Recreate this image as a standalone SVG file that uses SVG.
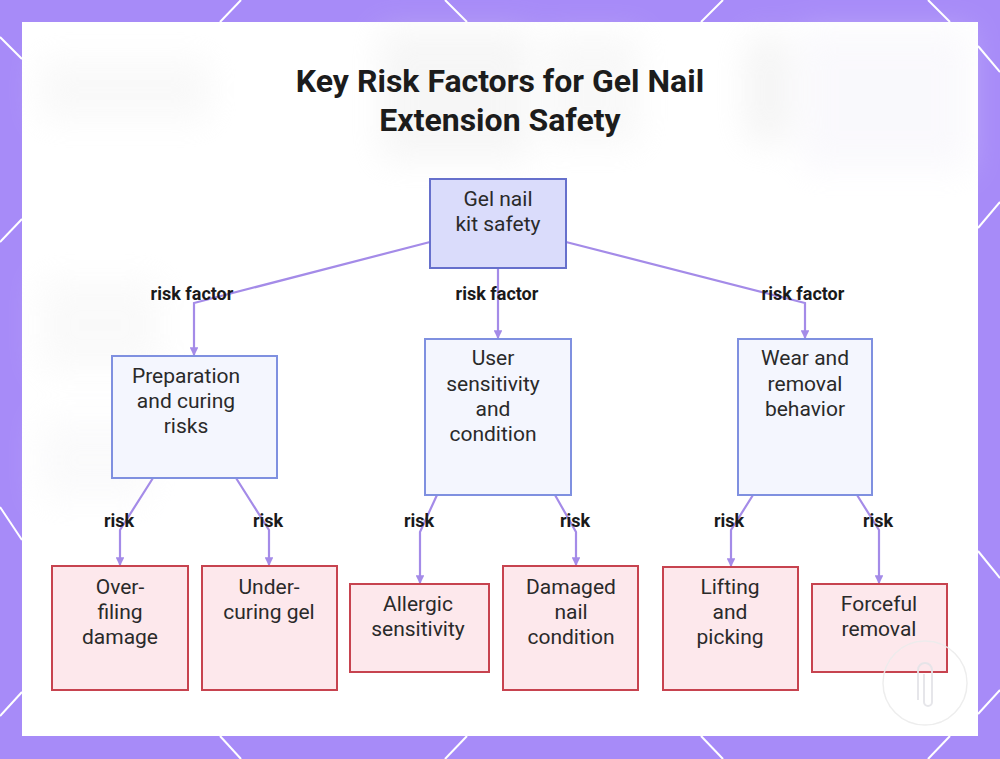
<svg xmlns="http://www.w3.org/2000/svg" width="1000" height="759" viewBox="0 0 1000 759">
<style>
.title{font-family:Roboto,"Liberation Sans",sans-serif;font-weight:bold;font-size:32px;fill:#1c1c1c;text-anchor:middle}
.nt{font-family:Roboto,"Liberation Sans",sans-serif;font-size:21px;fill:#2a2a2a;text-anchor:middle}
.lbl{font-family:Roboto,"Liberation Sans",sans-serif;font-weight:bold;font-size:18px;fill:#1a1a1a;text-anchor:middle}
.root{fill:#dadcfb;stroke:#6670cc;stroke-width:2}
.mid{fill:#f4f6fe;stroke:#7f90e0;stroke-width:2}
.leaf{fill:#fde8ec;stroke:#c7434f;stroke-width:2}
.edge{fill:none;stroke:#a48be8;stroke-width:2.2}
.deco{stroke:#ffffff;stroke-width:2;fill:none}
</style>
<defs>
<marker id="ah" viewBox="0 0 8 8" refX="7" refY="4" markerWidth="4" markerHeight="4" orient="auto">
<path d="M0,0 L8,4 L0,8 z" fill="#a48be8"/>
</marker>
<filter id="blur" x="-100%" y="-100%" width="300%" height="300%"><feGaussianBlur stdDeviation="16"/></filter>
</defs>
<rect x="0" y="0" width="1000" height="759" fill="#a78bf8"/>
<g class="deco">
<line x1="241" y1="0" x2="220" y2="22"/>
<line x1="445" y1="0" x2="467" y2="22"/>
<line x1="723" y1="0" x2="701" y2="22"/>
<line x1="928" y1="0" x2="950" y2="22"/>
<line x1="220" y1="736" x2="241" y2="759"/>
<line x1="467" y1="736" x2="445" y2="759"/>
<line x1="701" y1="736" x2="723" y2="759"/>
<line x1="950" y1="736" x2="928" y2="759"/>
<line x1="0" y1="37" x2="22" y2="59"/>
<line x1="22" y1="219" x2="0" y2="242"/>
<line x1="0" y1="507" x2="22" y2="540"/>
<line x1="22" y1="692" x2="0" y2="716"/>
<line x1="978" y1="46" x2="1000" y2="72"/>
<line x1="1000" y1="202" x2="978" y2="228"/>
<line x1="978" y1="551" x2="1000" y2="578"/>
<line x1="1000" y1="690" x2="978" y2="714"/>
</g>
<rect x="22" y="22" width="956" height="714" fill="#ffffff"/>
<g filter="url(#blur)" opacity="0.35">
<rect x="380" y="30" width="150" height="130" fill="#e6e6e6"/>
<rect x="545" y="35" width="95" height="110" fill="#ececec"/>
<rect x="745" y="35" width="45" height="110" rx="20" fill="#e2e2e2"/>
<rect x="800" y="30" width="170" height="140" fill="#f0eef8"/>
<rect x="40" y="60" width="170" height="60" fill="#eeeeee"/>
<rect x="40" y="280" width="120" height="90" fill="#f0f0f0"/>
<rect x="40" y="420" width="110" height="80" fill="#f2f2f4"/>
</g>
<g id="title">
<text class="title" x="500" y="92">Key Risk Factors for Gel Nail</text>
<text class="title" x="500" y="131">Extension Safety</text>
</g>
<g id="connectors">
<path class="edge" d="M430,242 L194,303 L194,355" marker-end="url(#ah)"/>
<path class="edge" d="M498,268 L498,338" marker-end="url(#ah)"/>
<path class="edge" d="M566,242 L805,303 L805,338" marker-end="url(#ah)"/>
<path class="edge" d="M153,478 L120,530 L120,565" marker-end="url(#ah)"/>
<path class="edge" d="M236,478 L269,530 L269,565" marker-end="url(#ah)"/>
<path class="edge" d="M437,495 L420,532 L420,583" marker-end="url(#ah)"/>
<path class="edge" d="M555,495 L576,532 L576,565" marker-end="url(#ah)"/>
<path class="edge" d="M753,495 L731,530 L731,566" marker-end="url(#ah)"/>
<path class="edge" d="M857,495 L879,530 L879,583" marker-end="url(#ah)"/>
<text class="lbl" x="192" y="300">risk factor</text>
<text class="lbl" x="497" y="300">risk factor</text>
<text class="lbl" x="803" y="300">risk factor</text>
<text class="lbl" x="119" y="527">risk</text>
<text class="lbl" x="268" y="527">risk</text>
<text class="lbl" x="419" y="527">risk</text>
<text class="lbl" x="575" y="527">risk</text>
<text class="lbl" x="729" y="527">risk</text>
<text class="lbl" x="878" y="527">risk</text>
</g>
<g id="n-root">
<rect class="root" x="430" y="179" width="136" height="89"/>
<text class="nt" x="498" y="206">Gel nail</text>
<text class="nt" x="498" y="231">kit safety</text>
</g>
<g id="n-prep">
<rect class="mid" x="112" y="356" width="165" height="122"/>
<text class="nt" x="186" y="383">Preparation</text>
<text class="nt" x="186" y="408">and curing</text>
<text class="nt" x="186" y="433">risks</text>
</g>
<g id="n-user">
<rect class="mid" x="425" y="339" width="146" height="156"/>
<text class="nt" x="493" y="365">User</text>
<text class="nt" x="493" y="391">sensitivity</text>
<text class="nt" x="493" y="416">and</text>
<text class="nt" x="493" y="441">condition</text>
</g>
<g id="n-wear">
<rect class="mid" x="738" y="339" width="134" height="156"/>
<text class="nt" x="805" y="365">Wear and</text>
<text class="nt" x="805" y="391">removal</text>
<text class="nt" x="805" y="416">behavior</text>
</g>
<g id="n-over">
<rect class="leaf" x="52" y="566" width="136" height="124"/>
<text class="nt" x="120" y="594">Over-</text>
<text class="nt" x="120" y="619">filing</text>
<text class="nt" x="120" y="644">damage</text>
</g>
<g id="n-under">
<rect class="leaf" x="202" y="566" width="135" height="124"/>
<text class="nt" x="269" y="594">Under-</text>
<text class="nt" x="269" y="619">curing gel</text>
</g>
<g id="n-allergic">
<rect class="leaf" x="350" y="584" width="139" height="88"/>
<text class="nt" x="418" y="611">Allergic</text>
<text class="nt" x="418" y="636">sensitivity</text>
</g>
<g id="n-damaged">
<rect class="leaf" x="503" y="566" width="135" height="124"/>
<text class="nt" x="571" y="594">Damaged</text>
<text class="nt" x="571" y="619">nail</text>
<text class="nt" x="571" y="644">condition</text>
</g>
<g id="n-lifting">
<rect class="leaf" x="663" y="567" width="135" height="123"/>
<text class="nt" x="730" y="594">Lifting</text>
<text class="nt" x="730" y="619">and</text>
<text class="nt" x="730" y="644">picking</text>
</g>
<g id="n-forceful">
<rect class="leaf" x="812" y="584" width="135" height="88"/>
<text class="nt" x="879" y="611">Forceful</text>
<text class="nt" x="879" y="636">removal</text>
</g>
<g id="watermark" fill="none" opacity="0.9">
<circle cx="925" cy="683" r="42" stroke="#ececec" stroke-width="1.5"/>
<path d="M918,700 L918,670 A7,7 0 0 1 932,670 L932,702 A4,4 0 0 1 924,702 L924,674" stroke="#e4e4e8" stroke-width="2"/>
</g>
</svg>
